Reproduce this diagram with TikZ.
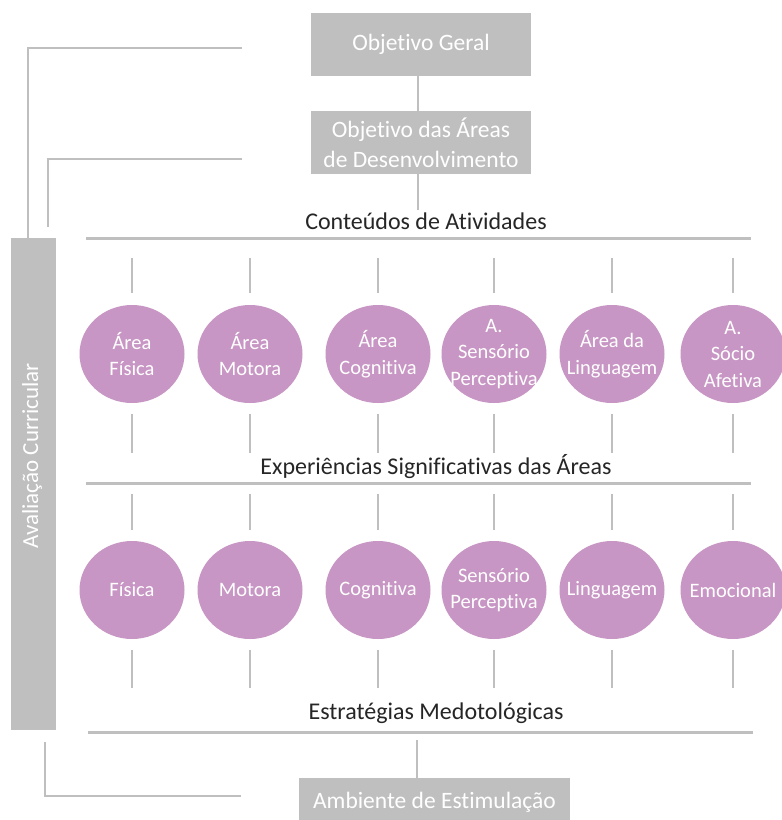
\documentclass[tikz,border=0pt]{standalone}
\usepackage{fontspec}
\setmainfont{Carlito}[Ligatures=NoCommon]
\usetikzlibrary{shapes.geometric,calc}
\definecolor{boxgray}{RGB}{191,191,191}
\definecolor{areapink}{RGB}{200,150,196}
\definecolor{headtext}{RGB}{38,38,38}

\begin{document}
\begin{tikzpicture}[x=1pt,y=-1pt,
  graybox/.style={fill=boxgray, draw=none, text=white,
    font=\fontsize{23.5}{30}\selectfont, align=center, inner sep=0,
    minimum width=220, minimum height=63},
  area/.style={ellipse, fill=areapink, draw=none,
    minimum width=105, minimum height=98, inner sep=0},
  arealabel/.style={text=white, font=\fontsize{20.5}{26.5}\selectfont,
    align=center, inner sep=0},
  heading/.style={text=headtext, font=\fontsize{24}{29}\selectfont, inner sep=2},
  rule/.style={draw=boxgray, line width=3},
  link/.style={draw=boxgray, line width=2.5},
  tickline/.style={draw=boxgray, line width=2.2},
]
\useasboundingbox (0,0) rectangle (782,820);
\clip (0,0) rectangle (782,820);
\fill[white] (0,0) rectangle (782,820);

% objectives
\node[graybox] (og) at (421,44.5) {Objetivo Geral};
\node[graybox] (oa) at (421,142.5) {Objetivo das Áreas\\de Desenvolvimento};

% section headings and their rules
\node[heading] (cont) at (426,221) {Conteúdos de Atividades};
\node[heading] (exp)  at (436,467) {Experiências Significativas das Áreas};
\node[heading] (est)  at (436,713) {Estratégias Medotológicas};

\coordinate (r1l) at (86,238);  \coordinate (r1r) at (751,238);
\coordinate (r2l) at (86,483);  \coordinate (r2r) at (751,483);
\coordinate (r3l) at (88,732);  \coordinate (r3r) at (753,732);
\draw[rule] (r1l) -- (r1r);
\draw[rule] (r2l) -- (r2r);
\draw[rule] (r3l) -- (r3r);

% evaluation bar
\node[fill=boxgray, draw=none, minimum width=45, minimum height=492, inner sep=0]
  (av) at (33.5,484) {};
\node[rotate=90, text=white, font=\fontsize{23}{28}\selectfont, inner sep=0]
  (avtxt) at (32,456) {Avaliação Curricular};

% environment box
\node[fill=boxgray, draw=none, text=white, font=\fontsize{23.5}{28}\selectfont,
  minimum width=271, minimum height=48, inner sep=0] (amb) at (434.5,802)
  {Ambiente de Estimulação};

% vertical connectors along the spine
\draw[link] ([xshift=-3]og.south) -- ([xshift=-3]oa.north);
\draw[link] ([xshift=-3]oa.south) -- ([xshift=-3]oa.south |- cont.north);
\coordinate (c3) at (417,740);
\draw[link] (c3) -- (c3 |- amb.north);

% brackets on the left
\coordinate (b1) at (242,48);
\coordinate (b2) at (242,159);
\coordinate (b2e) at (48,227);
\coordinate (b3) at (45,742);
\coordinate (b3e) at (241,796);
\draw[link] (b1) -| ([xshift=-5.5]av.north);
\draw[link] (b2) -| (b2e);
\draw[link] (b3) |- (b3e);

% areas
\foreach \n/\x/\t in {1/132/{Área\\Física},
                      2/250/{Área\\Motora},
                      3/378/{Área\\Cognitiva},
                      4/494/{A.\\Sensório\\Perceptiva},
                      5/612/{Área da\\Linguagem},
                      6/733/{A.\\Sócio\\Afetiva}}{
  \node[area, label={[arealabel]center:{\t}}] (a\n) at (\x,354) {};
  \draw[tickline] ($(a\n.north)+(0,-12)$) -- ($(a\n.north)+(0,-47)$);
  \draw[tickline] ($(a\n.south)+(0,11)$) -- ($(a\n.south)+(0,50)$);
}
\foreach \n/\x/\t in {1/132/{Física},
                      2/250/{Motora},
                      3/378/{Cognitiva},
                      4/494/{Sensório\\Perceptiva},
                      5/612/{Linguagem},
                      6/733/{Emocional}}{
  \node[area, label={[arealabel]center:{\t}}] (e\n) at (\x,590) {};
  \draw[tickline] ($(e\n.north)+(0,-11)$) -- ($(e\n.north)+(0,-47)$);
  \draw[tickline] ($(e\n.south)+(0,11)$) -- ($(e\n.south)+(0,49)$);
}
\end{tikzpicture}
\end{document}
